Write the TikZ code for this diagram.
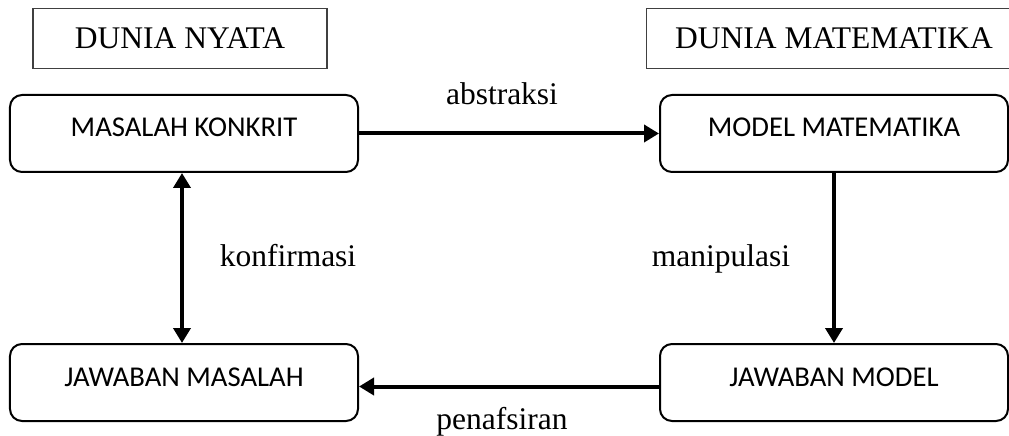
\documentclass[tikz,border=0pt]{standalone}
\usepackage{fontspec}
\setmainfont{Liberation Serif}
\newfontfamily\boxfont{Carlito}
\usepackage{tikz}
\usetikzlibrary{positioning,shapes,arrows.meta}

\begin{document}
\begin{tikzpicture}[
  node distance=170pt,
  roundbox/.style={rectangle, rounded corners=12pt, draw=black, line width=2pt, minimum width=348pt, inner sep=0pt, text height=42pt, text depth=35pt, font=\boxfont\fontsize{28.7}{34}\selectfont},
  titlebox/.style={rectangle, draw=black!75, line width=1.2pt, minimum height=60pt, inner sep=0pt, font=\fontsize{31.5}{38}\selectfont},
  lbl/.style={inner sep=0pt, anchor=base, font=\fontsize{31.5}{38}\selectfont},
  flow/.style={line width=4pt, -{Triangle[length=15pt,width=17pt]}}
]
\useasboundingbox (-184pt,-302.5pt) rectangle (825pt,133.5pt);

%Nodes
\node[roundbox] (masalah) {MASALAH KONKRIT};
\node[roundbox, right=300pt of masalah] (model) {MODEL MATEMATIKA};
\node[roundbox, below=of masalah] (jawmasalah) {JAWABAN MASALAH};
\node[roundbox, below=of model] (jawmodel) {JAWABAN MODEL};
\node[titlebox, minimum width=294pt, above=25pt of masalah, xshift=-4pt] (nyata) {DUNIA NYATA};
\node[titlebox, minimum width=375pt, above=25pt of model] (matematika) {DUNIA MATEMATIKA};

%Arrows
\draw[flow] (masalah) -- node[lbl, xshift=-7pt, yshift=29pt]{abstraksi} (model);
\draw[flow] (model) -- node[lbl, xshift=-113pt, yshift=-8pt]{manipulasi} (jawmodel);
\draw[flow] ([yshift=-4pt]jawmodel.west) -- node[lbl, xshift=-7pt, yshift=-43pt]{penafsiran} ([yshift=-4pt]jawmasalah.east);
\draw[flow, {Triangle[length=15pt,width=17pt]}-{Triangle[length=15pt,width=17pt]}] ([xshift=-2pt]masalah.south) -- node[lbl, xshift=106pt, yshift=-8pt]{konfirmasi} ([xshift=-2pt]jawmasalah.north);
\end{tikzpicture}
\end{document}
